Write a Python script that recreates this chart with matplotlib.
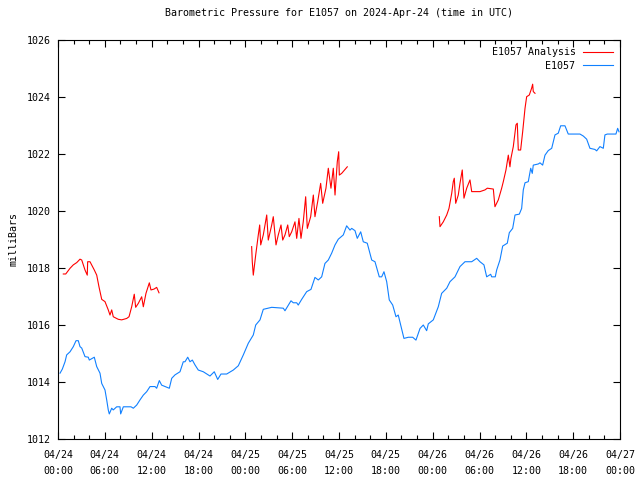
import matplotlib
matplotlib.use("Agg")
import matplotlib.pyplot as plt
from matplotlib.ticker import MultipleLocator

# Hours since 2024-04-24 00:00 UTC
station_t = [0.26, 0.55, 0.90, 1.11, 1.54, 1.96, 2.31, 2.60, 2.82, 3.04, 3.46, 3.88, 4.01, 4.65, 4.96,
             5.38, 5.60, 6.02, 6.24, 6.44, 6.57, 6.88, 7.08, 7.52, 7.94, 8.03, 8.37, 9.35, 9.65, 10.08,
             10.50, 10.93, 11.36, 11.79, 12.43, 12.64, 12.98, 13.28, 13.71, 14.26, 14.57, 14.99, 15.63,
             16.05, 16.27, 16.62, 16.91, 17.21, 17.55, 17.97, 18.61, 19.47, 20.02, 20.46, 20.88, 21.61,
             22.46, 23.10, 23.74, 24.38, 25.02, 25.33, 25.88, 26.30, 27.38, 28.86, 29.08, 29.85, 30.14,
             30.58, 30.78, 31.22, 31.86, 32.41, 32.92, 33.35, 33.78, 34.20, 34.63, 35.06, 35.49, 35.91,
             36.55, 36.98, 37.41, 37.63, 38.05, 38.34, 38.78, 39.11, 39.62, 40.19, 40.61, 41.16, 41.47,
             41.76, 42.11, 42.44, 42.88, 43.30, 43.59, 43.90, 44.32, 44.88, 45.44, 45.86, 46.38, 46.80,
             47.23, 47.44, 48.08, 48.72, 49.15, 49.80, 50.22, 50.86, 51.50, 52.14, 53.00, 53.64, 54.06,
             54.57, 54.92, 55.43, 55.56, 56.02, 56.20, 56.62, 56.97, 57.56, 57.82, 58.25, 58.55, 59.10,
             59.40, 59.61, 59.83, 60.25, 60.56, 60.76, 60.89, 61.53, 61.75, 62.09, 62.39, 62.81, 63.25,
             63.67, 64.09, 64.40, 64.95, 65.37, 66.87, 67.30, 67.73, 68.15, 68.79, 69.01, 69.43, 69.86,
             70.07, 70.37, 71.48, 71.70, 71.87]
station_p = [1014.31, 1014.45, 1014.71, 1014.95, 1015.06, 1015.24, 1015.45, 1015.45, 1015.24, 1015.19,
             1014.89, 1014.87, 1014.77, 1014.87, 1014.54, 1014.31, 1013.95, 1013.72, 1013.37, 1013.02,
             1012.88, 1013.08, 1013.02, 1013.13, 1013.13, 1012.88, 1013.13, 1013.13, 1013.08, 1013.19,
             1013.37, 1013.54, 1013.66, 1013.84, 1013.84, 1013.78, 1014.05, 1013.89, 1013.84, 1013.78,
             1014.13, 1014.25, 1014.36, 1014.71, 1014.71, 1014.87, 1014.71, 1014.77, 1014.60, 1014.42,
             1014.36, 1014.21, 1014.36, 1014.09, 1014.28, 1014.28, 1014.42, 1014.57, 1014.95, 1015.36,
             1015.65, 1016.00, 1016.18, 1016.55, 1016.62, 1016.59, 1016.50, 1016.85, 1016.78, 1016.78,
             1016.70, 1016.90, 1017.17, 1017.25, 1017.67, 1017.58, 1017.69, 1018.16, 1018.28, 1018.52,
             1018.81, 1019.01, 1019.16, 1019.48, 1019.33, 1019.39, 1019.31, 1019.04, 1019.27, 1018.92,
             1018.87, 1018.28, 1018.22, 1017.69, 1017.69, 1017.87, 1017.52, 1016.88, 1016.70, 1016.29,
             1016.35, 1016.00, 1015.53, 1015.57, 1015.57, 1015.47, 1015.88, 1016.00, 1015.80, 1016.04,
             1016.18, 1016.64, 1017.11, 1017.29, 1017.52, 1017.69, 1018.05, 1018.22, 1018.22, 1018.34,
             1018.22, 1018.11, 1017.69, 1017.78, 1017.69, 1017.69, 1017.93, 1018.28, 1018.77, 1018.87,
             1019.24, 1019.39, 1019.86, 1019.89, 1020.09, 1020.74, 1020.99, 1021.03, 1021.50, 1021.32,
             1021.61, 1021.65, 1021.69, 1021.61, 1021.96, 1022.12, 1022.20, 1022.67, 1022.73, 1022.99,
             1022.99, 1022.70, 1022.70, 1022.63, 1022.52, 1022.20, 1022.16, 1022.11, 1022.26, 1022.20,
             1022.67, 1022.70, 1022.70, 1022.90, 1022.78]

analysis1_t = [0.68, 0.99, 1.54, 1.96, 2.40, 2.82, 3.04, 3.46, 3.75, 3.80, 4.10, 4.65, 4.96, 5.25, 5.60,
               6.02, 6.44, 6.66, 6.88, 7.08, 7.72, 8.16, 8.80, 9.10, 9.44, 9.77, 9.95, 10.29, 10.72,
               10.93, 11.27, 11.70, 11.91, 12.30, 12.64, 12.94]
analysis1_p = [1017.79, 1017.79, 1017.99, 1018.11, 1018.19, 1018.31, 1018.28, 1017.93, 1017.75, 1018.22,
               1018.22, 1017.93, 1017.75, 1017.34, 1016.90, 1016.82, 1016.53, 1016.35, 1016.53, 1016.29,
               1016.20, 1016.18, 1016.23, 1016.29, 1016.64, 1017.08, 1016.62, 1016.76, 1016.99, 1016.64,
               1017.11, 1017.48, 1017.23, 1017.26, 1017.32, 1017.13]

analysis2_t = [24.81, 24.89, 25.02, 25.33, 25.66, 25.84, 25.97, 26.30, 26.74, 26.94, 27.38, 27.58, 27.93,
               28.22, 28.57, 28.79, 29.08, 29.43, 29.63, 29.94, 30.36, 30.58, 30.87, 31.13, 31.42, 31.73,
               31.94, 32.37, 32.71, 32.92, 33.27, 33.65, 33.91, 34.33, 34.63, 34.97, 35.27, 35.49, 35.78,
               35.96, 36.04, 36.34, 37.06]
analysis2_p = [1018.75, 1018.22, 1017.75, 1018.46, 1019.16, 1019.51, 1018.81, 1019.16, 1019.86, 1018.98,
               1019.51, 1019.80, 1018.81, 1019.16, 1019.51, 1018.98, 1019.16, 1019.51, 1019.10, 1019.27,
               1019.62, 1019.04, 1019.74, 1019.04, 1019.62, 1020.50, 1019.39, 1019.80, 1020.56, 1019.80,
               1020.33, 1020.97, 1020.27, 1020.80, 1021.50, 1020.80, 1021.50, 1020.56, 1021.73, 1022.08,
               1021.26, 1021.32, 1021.55]

analysis3_t = [48.85, 48.94, 49.36, 49.80, 50.09, 50.44, 50.64, 50.77, 50.95, 51.28, 51.50, 51.79, 52.01,
               52.36, 52.78, 53.00, 54.06, 54.70, 55.00, 55.77, 55.98, 56.41, 56.84, 57.05, 57.39, 57.69,
               57.90, 58.03, 58.33, 58.67, 58.84, 58.97, 59.27, 59.53, 59.83, 60.04, 60.38, 60.68, 60.81,
               60.89, 61.11]
analysis3_p = [1019.80, 1019.45, 1019.62, 1019.86, 1020.09, 1020.62, 1021.03, 1021.15, 1020.27, 1020.56,
               1020.97, 1021.44, 1020.45, 1020.80, 1021.09, 1020.68, 1020.68, 1020.74, 1020.80, 1020.77,
               1020.15, 1020.39, 1020.80, 1021.03, 1021.44, 1021.96, 1021.55, 1021.85, 1022.26, 1023.02,
               1023.08, 1022.14, 1022.14, 1022.78, 1023.60, 1024.01, 1024.07, 1024.31, 1024.45, 1024.19,
               1024.13]

tick_hours = [0, 6, 12, 18, 24, 30, 36, 42, 48, 54, 60, 66, 72]
tick_labels = ["04/24\n00:00", "04/24\n06:00", "04/24\n12:00", "04/24\n18:00",
               "04/25\n00:00", "04/25\n06:00", "04/25\n12:00", "04/25\n18:00",
               "04/26\n00:00", "04/26\n06:00", "04/26\n12:00", "04/26\n18:00",
               "04/27\n00:00"]

title = "Barometric Pressure for E1057 on 2024-Apr-24 (time in UTC)"

plt.rcParams['font.family'] = ['DejaVu Sans Mono']
plt.rcParams['font.size'] = 7

RED = '#ff0000'
BLUE = '#1080ff'

fig = plt.figure(figsize=(6.4, 4.8), dpi=100)
ax = fig.add_axes([58/640, 41/480, 562/640, 399/480])

ax.plot(analysis1_t, analysis1_p, color=RED, lw=0.8, label="E1057 Analysis")
ax.plot(analysis2_t, analysis2_p, color=RED, lw=0.8)
ax.plot(analysis3_t, analysis3_p, color=RED, lw=0.8)
ax.plot(station_t, station_p, color=BLUE, lw=0.8, label="E1057")

ax.set_xlim(0, 72)
ax.set_ylim(1012, 1026)
ax.set_xticks(tick_hours)
ax.set_xticklabels(tick_labels, linespacing=1.7, fontsize=7.2)
ax.xaxis.set_minor_locator(MultipleLocator(2))
ax.set_yticks(range(1012, 1027, 2))
ax.tick_params(which='both', direction='in', top=True, right=True, colors='black')
ax.tick_params(which='major', length=5, width=0.8)
ax.tick_params(which='minor', length=3, width=0.8)
ax.tick_params(axis='x', pad=8)
ax.tick_params(axis='y', pad=5, labelsize=7.2)
for s in ax.spines.values():
    s.set_linewidth(0.8)

ax.set_ylabel("milliBars", fontsize=7.2, labelpad=6)
ax.set_title(title, fontsize=7.2, pad=17)

leg = ax.legend(loc='upper right', frameon=False, markerfirst=False, handlelength=3.0,
                handletextpad=0.7, borderaxespad=0.35, labelspacing=0.35, fontsize=7.2)
for t in leg.get_texts():
    t.set_ha('right')

fig.savefig("out.png", dpi=100)
